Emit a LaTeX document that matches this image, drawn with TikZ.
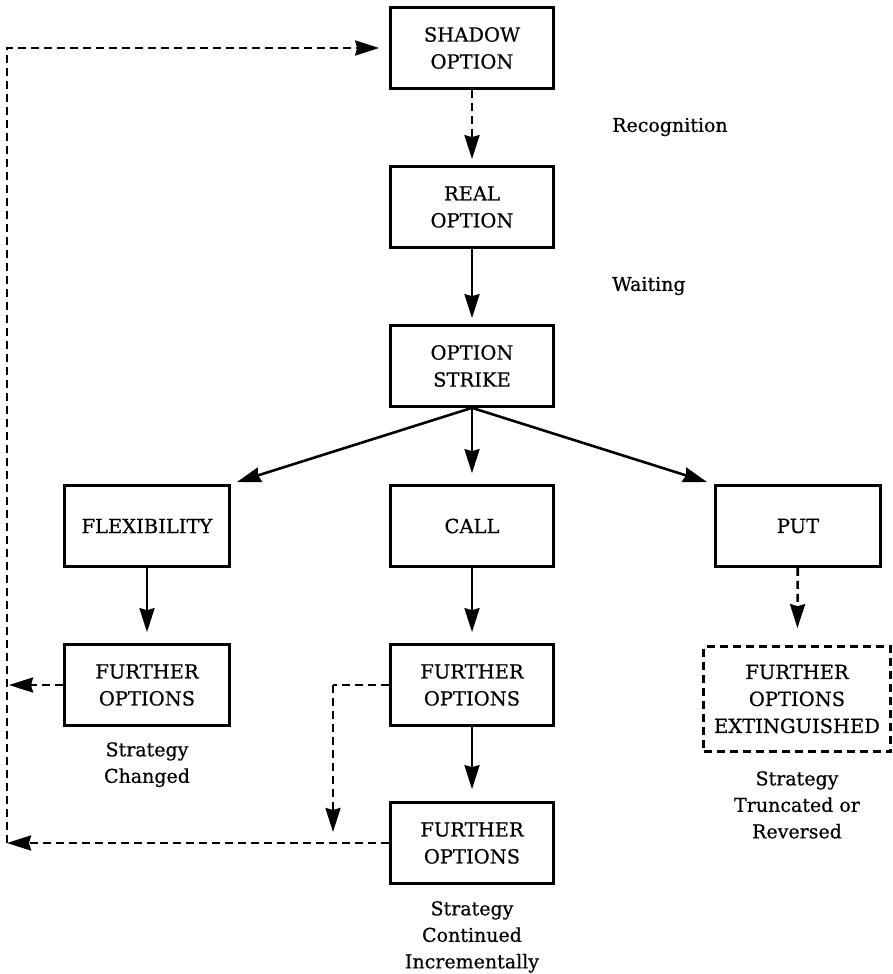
\documentclass[tikz,border=0pt]{standalone}
\usepackage{fontspec}
\setmainfont[FakeBold=0.6]{DejaVu Serif}
\usetikzlibrary{arrows.meta}
\begin{document}
\begin{tikzpicture}[x=1pt,y=-1pt,
  box/.style={draw, line width=2.7pt, align=center, minimum width=163pt, minimum height=81pt, inner sep=0pt, font=\fontsize{19.5}{27}\selectfont},
  lbl/.style={align=center, font=\fontsize{19}{26.5}\selectfont, inner sep=0pt},
  conn/.style={line width=2.6pt, -{Stealth[length=24pt,width=15pt,inset=2pt]}},
  dconn/.style={conn, dash pattern=on 8pt off 5pt},
  dline/.style={line width=2.6pt, dash pattern=on 8pt off 5pt}]
\useasboundingbox (0,0) rectangle (893,974);
% boxes
\node[box] (shadow) at (472,48) {SHADOW\\OPTION};
\node[box] (real) at (472,207) {REAL\\OPTION};
\node[box] (strike) at (472,366) {OPTION\\STRIKE};
\node[box, minimum width=165pt] (flex) at (147,526) {FLEXIBILITY};
\node[box] (call) at (472,526) {CALL};
\node[box, minimum width=165pt] (put) at (798,526) {PUT};
\node[box, minimum width=165pt] (fo1) at (147,685) {FURTHER\\OPTIONS};
\node[box] (fo2) at (472,685) {FURTHER\\OPTIONS};
\node[box] (fo3) at (472,843) {FURTHER\\OPTIONS};
\node[box, dash pattern=on 8pt off 5pt, minimum width=187pt, minimum height=105pt] (foe) at (797,699) {FURTHER\\OPTIONS\\EXTINGUISHED};
% labels
\node[lbl, anchor=west] (rec) at (612,127) {Recognition};
\node[lbl, anchor=west] (wait) at (612,286) {Waiting};
\node[lbl, anchor=north] (l1) at (147,742) {Strategy\\Changed};
\node[lbl, anchor=north] (l2) at (797,771) {Strategy\\Truncated or\\Reversed};
\node[lbl, anchor=north] (l3) at (472,901) {Strategy\\Continued\\Incrementally};
% coordinates
\coordinate (lbot) at (7,843);
\coordinate (lfo1) at (9,685);
\coordinate (dcorner) at (333,685);
\coordinate (dend) at (333,832);
\coordinate (flextip) at (237,482);
\coordinate (puttip) at (707,482);
% connectors
\draw[dconn, shorten >=6pt] (shadow) -- (real);
\draw[conn, shorten >=6pt] (real) -- (strike);
\draw[conn, shorten >=11pt] (strike) -- (call);
\draw[conn] (strike.south) -- (flextip);
\draw[conn] (strike.south) -- (puttip);
\draw[conn, shorten >=11pt] (flex) -- (fo1);
\draw[conn, shorten >=11pt] (call) -- (fo2);
\draw[conn, shorten >=12pt] (fo2) -- (fo3);
\draw[dconn, shorten >=17pt] (put) -- (foe);
\draw[dconn] (fo1.west) -- (lfo1);
\draw[dline] (fo2.west) -- (dcorner);
\draw[dconn] (dcorner) -- (dend);
\draw[dconn] (fo3.west) -- (lbot);
\draw[dconn, shorten >=10pt] (lbot) |- (shadow.west);
\end{tikzpicture}
\end{document}
